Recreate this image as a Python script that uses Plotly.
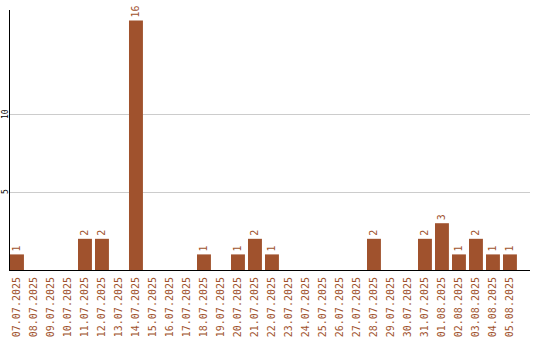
import plotly.graph_objects as go

dates = ["07.07.2025", "08.07.2025", "09.07.2025", "10.07.2025", "11.07.2025",
         "12.07.2025", "13.07.2025", "14.07.2025", "15.07.2025", "16.07.2025",
         "17.07.2025", "18.07.2025", "19.07.2025", "20.07.2025", "21.07.2025",
         "22.07.2025", "23.07.2025", "24.07.2025", "25.07.2025", "26.07.2025",
         "27.07.2025", "28.07.2025", "29.07.2025", "30.07.2025", "31.07.2025",
         "01.08.2025", "02.08.2025", "03.08.2025", "04.08.2025", "05.08.2025"]
values = [1, 0, 0, 0, 2, 2, 0, 16, 0, 0,
          0, 1, 0, 1, 2, 1, 0, 0, 0, 0,
          0, 2, 0, 0, 2, 3, 1, 2, 1, 1]
y_ticks = [5, 10]

idx = list(range(len(dates)))
labels = [str(v) if v > 0 else "" for v in values]

brown = "#a0522d"
mono = "DejaVu Sans Mono"

fig = go.Figure(go.Bar(
    x=idx, y=values, width=0.82,
    marker=dict(color=brown, line=dict(width=0)),
    text=labels, textposition="outside", textangle=-90,
    textfont=dict(family=mono, size=10, color=brown),
    cliponaxis=False, hoverinfo="skip",
))

for t in y_ticks:
    fig.add_annotation(
        x=0, xref="paper", xanchor="center", xshift=-5,
        y=t, yref="y", yanchor="middle",
        text=str(t), textangle=-90, showarrow=False,
        font=dict(family=mono, size=8, color="black"),
    )

fig.update_layout(
    width=540, height=340,
    margin=dict(l=10, r=10, t=10, b=70),
    paper_bgcolor="white", plot_bgcolor="white",
    showlegend=False,
    bargap=0.18,
    xaxis=dict(
        range=[-0.41, 30.18], tickmode="array", tickvals=idx, ticktext=dates,
        tickangle=-90, tickfont=dict(family=mono, size=10, color=brown),
        showgrid=False, zeroline=False, showline=True, linecolor="black",
        linewidth=1, ticks="", fixedrange=True, automargin=False,
        ticklabelstandoff=2,
    ),
    yaxis=dict(
        range=[0, 16.67], tickmode="array", tickvals=y_ticks,
        showticklabels=False,
        showgrid=True, gridcolor="#cccccc", gridwidth=1,
        zeroline=False, showline=True, linecolor="black", linewidth=1,
        ticks="", automargin=False,
    ),
)

fig.write_html("out.html")
